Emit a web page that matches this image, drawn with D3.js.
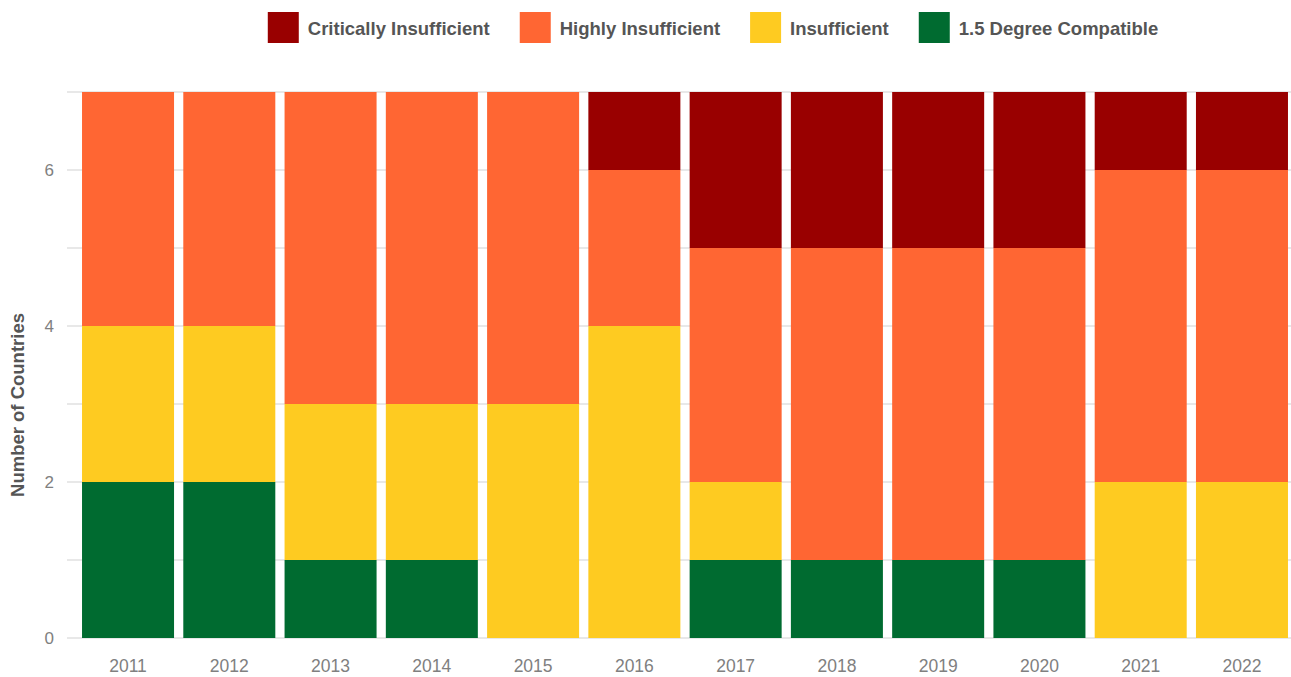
<!DOCTYPE html>
<html>
<head>
<meta charset="utf-8">
<script src="https://cdn.jsdelivr.net/npm/d3@7"></script>
<style>
  body { margin: 0; background: #fff; }
  svg { display: block; font-family: "Liberation Sans", Arial, Helvetica, sans-serif; }
</style>
</head>
<body>
<svg id="chart" width="1291" height="677"></svg>
<script>
"use strict";

// data
const years = ["2011", "2012", "2013", "2014", "2015", "2016", "2017", "2018", "2019", "2020", "2021", "2022"];
const compatible   = [2, 2, 1, 1, 0, 0, 1, 1, 1, 1, 0, 0];
const insufficient = [2, 2, 2, 2, 3, 4, 1, 0, 0, 0, 2, 2];
const highly       = [3, 3, 4, 4, 4, 2, 3, 4, 4, 4, 4, 4];
const critically   = [0, 0, 0, 0, 0, 1, 2, 2, 2, 2, 1, 1];
const yTicks = [0, 2, 4, 6];

// stack bottom -> top
const series = [
    { key: "1.5 Degree Compatible", values: compatible, color: "#006b30" },
    { key: "Insufficient", values: insufficient, color: "#fecb21" },
    { key: "Highly Insufficient", values: highly, color: "#ff6633" },
    { key: "Critically Insufficient", values: critically, color: "#990000" }
];
// legend order is top -> bottom
const legendOrder = series.slice().reverse();

const svg = d3.select("#chart");

const rows = years.map((y, i) => {
    let row = { year: y };
    series.forEach(s => { row[s.key] = s.values[i]; });
    return row;
});

const stacked = d3.stack().keys(series.map(s => s.key))(rows);

const x = d3.scaleBand()
    .domain(years)
    .range([77.4, 1292.6])
    .paddingInner(0.0914)
    .paddingOuter(0.0457);

const y = d3.scaleLinear()
    .domain([0, 7])
    .range([638, 92]);

// gridlines every 1
svg.append("g")
    .selectAll("line")
    .data(d3.range(0, 8))
    .enter().append("line")
    .attr("x1", 67)
    .attr("x2", 1291)
    .attr("y1", d => y(d))
    .attr("y2", d => y(d))
    .style("stroke", "#e8e8e8")
    .style("stroke-width", 2);

// bars
svg.append("g")
    .selectAll("g")
    .data(stacked)
    .enter().append("g")
    .style("fill", (d, i) => series[i].color)
    .selectAll("rect")
    .data(d => d)
    .enter().append("rect")
    .attr("x", d => x(d.data.year))
    .attr("width", x.bandwidth())
    .attr("y", d => y(d[1]))
    .attr("height", d => y(d[0]) - y(d[1]));

// y axis labels
let yAxis = svg.append("g")
    .attr("transform", "translate(54,0)")
    .call(d3.axisLeft(y).tickValues(yTicks).tickFormat(d3.format("d")).tickSize(0).tickPadding(0));
yAxis.select(".domain").remove();
yAxis.selectAll("text")
    .style("font-size", "17px")
    .style("fill", "#808080")
    .style("font-family", "inherit");

// x axis labels
let xAxis = svg.append("g")
    .attr("transform", "translate(0,660)")
    .call(d3.axisBottom(x).tickSize(0).tickPadding(0));
xAxis.select(".domain").remove();
xAxis.selectAll("text")
    .style("font-size", "17.5px")
    .style("fill", "#808080")
    .style("font-family", "inherit");

// y title
svg.append("text")
    .attr("transform", "translate(24,405) rotate(-90)")
    .attr("text-anchor", "middle")
    .style("font-size", "18.5px")
    .style("font-weight", "bold")
    .style("fill", "#555555")
    .text("Number of Countries");

// legend, laid out from the text widths
let legend = svg.append("g").attr("class", "legend");
let items = legend.selectAll("g")
    .data(legendOrder)
    .enter().append("g");

items.append("rect")
    .attr("width", 31)
    .attr("height", 31)
    .attr("y", 12)
    .style("fill", d => d.color);

items.append("text")
    .attr("x", 40)
    .attr("y", 35)
    .style("font-size", "18.5px")
    .style("font-weight", "bold")
    .style("fill", "#555555")
    .text(d => d.key);

let cursor = 0;
items.each(function() {
    let g = d3.select(this);
    g.attr("transform", "translate(" + cursor + ",0)");
    cursor += 40 + g.select("text").node().getComputedTextLength() + 30;
});
let legendWidth = cursor - 30;
legend.attr("transform", "translate(" + (713 - legendWidth / 2) + ",0)");
</script>
</body>
</html>
